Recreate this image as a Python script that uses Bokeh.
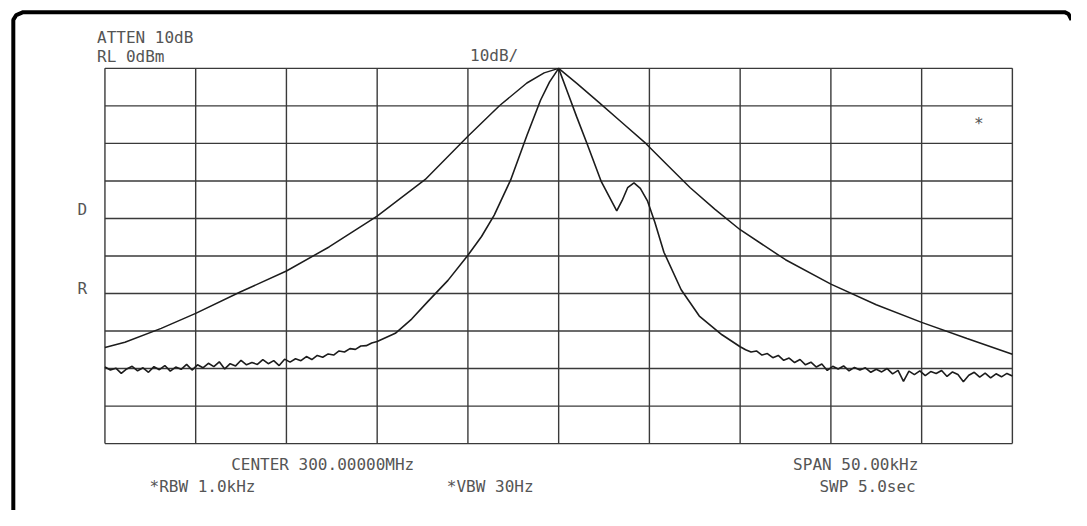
from bokeh.plotting import figure
from bokeh.models import Range1d, Label
from bokeh.embed import file_html
from bokeh.resources import INLINE

# ---------------- data ----------------
freq_ticks_khz = [-25, -20, -15, -10, -5, 0, 5, 10, 15, 20, 25]
level_ticks_dbm = [0, -10, -20, -30, -40, -50, -60, -70, -80, -90, -100]

# wide (smooth) trace
wide_khz = [-25.0, -23.9, -21.9, -20.0, -17.55, -15.0, -12.65, -10.0, -7.35, -5.0,
            -3.25, -1.75, -0.8, 0.0, 1.0, 2.2, 3.5, 4.8, 6.0, 7.25, 8.6, 10.0,
            12.5, 15.0, 17.5, 20.0, 22.5, 25.0]
wide_dbm = [-74.4, -73.0, -69.3, -65.3, -59.6, -54.0, -47.6, -39.4, -29.6, -18.1,
            -9.9, -3.9, -1.2, 0.0, -4.0, -9.0, -14.5, -20.0, -25.8, -31.8, -37.5, -43.0,
            -51.0, -57.5, -63.0, -67.7, -72.0, -76.2]

# narrow trace: left noise floor
noise_left_khz = [-25.0, -24.7, -24.4, -24.1, -23.8, -23.5, -23.2, -22.9, -22.6, -22.3,
                  -22.0, -21.7, -21.4, -21.1, -20.8, -20.5, -20.2, -19.9, -19.6, -19.3,
                  -19.0, -18.7, -18.4, -18.1, -17.8, -17.5, -17.2, -16.9, -16.6, -16.3,
                  -16.0, -15.7, -15.4, -15.1, -14.8, -14.5, -14.2, -13.9, -13.6, -13.3,
                  -13.0, -12.7, -12.4, -12.1, -11.8, -11.5, -11.2, -10.9, -10.6, -10.3]
noise_left_dbm = [-79.6, -80.4, -79.9, -81.3, -80.1, -79.4, -80.6, -79.8, -81.0, -79.5,
                  -80.3, -79.2, -80.7, -79.6, -80.2, -78.9, -80.4, -79.0, -79.8, -78.6,
                  -79.5, -78.2, -80.1, -78.7, -79.3, -77.8, -79.0, -78.4, -78.9, -77.6,
                  -78.7, -77.9, -79.2, -77.5, -78.3, -77.4, -77.9, -76.8, -77.6, -76.5,
                  -77.0, -76.1, -76.4, -75.3, -75.6, -74.7, -74.9, -74.0, -73.9, -73.2]

# narrow trace: main response with the side lobe
mid_khz = [-10.0, -9.0, -8.1, -7.2, -6.1, -5.0, -4.25, -3.55, -2.65, -1.75, -1.0, -0.5, 0.0,
           0.5, 1.0, 1.55, 2.35, 3.2, 3.5, 3.8, 4.15, 4.5, 4.9, 5.3, 5.8, 6.75, 7.75, 9.0, 10.0]
mid_dbm = [-72.8, -70.6, -66.8, -62.1, -56.5, -49.8, -44.8, -39.1, -29.8, -17.9, -8.5, -3.6, 0.0,
           -6.5, -13.0, -19.9, -30.2, -38.0, -35.2, -31.8, -30.5, -32.0, -35.4, -41.0, -49.0,
           -59.0, -66.0, -71.0, -74.2]

# narrow trace: right noise floor
noise_right_khz = [10.3, 10.6, 10.9, 11.2, 11.5, 11.8, 12.1, 12.4, 12.7, 13.0,
                   13.3, 13.6, 13.9, 14.2, 14.5, 14.8, 15.1, 15.4, 15.7, 16.0,
                   16.3, 16.6, 16.9, 17.2, 17.5, 17.8, 18.1, 18.4, 18.7, 19.0,
                   19.3, 19.6, 19.9, 20.2, 20.5, 20.8, 21.1, 21.4, 21.7, 22.0,
                   22.3, 22.6, 22.9, 23.2, 23.5, 23.8, 24.1, 24.4, 24.7, 25.0]
noise_right_dbm = [-75.0, -75.6, -75.3, -76.4, -76.0, -77.1, -76.5, -77.8, -77.2, -78.4,
                   -77.6, -79.0, -78.3, -79.6, -78.8, -80.5, -79.4, -80.1, -79.3, -80.6,
                   -79.7, -80.4, -79.8, -81.0, -80.2, -80.9, -80.0, -81.4, -80.5, -83.4,
                   -80.7, -81.6, -80.6, -81.9, -80.8, -81.3, -80.5, -82.1, -80.9, -81.6,
                   -83.5, -81.8, -81.0, -82.3, -81.2, -82.5, -81.4, -82.2, -81.3, -82.0]

header_texts = ["ATTEN 10dB", "RL 0dBm", "10dB/"]
footer_texts = ["CENTER 300.00000MHz", "SPAN 50.00kHz", "*RBW 1.0kHz", "*VBW 30Hz", "SWP 5.0sec"]
side_texts = ["D", "R", "*"]

# ---------------- layout ----------------
W, H = 1071, 510
SX, SY = W / 1087.0, H / 526.0             # reference-pixel -> figure-pixel
GL, GR, GT, GB = 106 * SX, 1027 * SX, 70 * SY, 457 * SY   # grid box
f_lo, f_hi = freq_ticks_khz[0], freq_ticks_khz[-1]
l_hi, l_lo = level_ticks_dbm[0], level_ticks_dbm[-1]
kx = (f_hi - f_lo) / (GR - GL)
ky = (l_hi - l_lo) / (GB - GT)
x0 = f_lo - GL * kx
x1 = f_hi + (W - GR) * kx
y1 = l_hi + GT * ky
y0 = l_lo - (H - GB) * ky


def px(rx):
    return x0 + rx * SX * kx


def py(ry):
    return y1 - ry * SY * ky


p = figure(width=W, height=H, x_range=Range1d(x0, x1), y_range=Range1d(y0, y1),
           x_axis_type=None, y_axis_type=None, min_border=0, title=None,
           toolbar_location=None, output_backend="svg", outline_line_color=None,
           background_fill_color="white", border_fill_color="white")
p.xgrid.visible = False
p.ygrid.visible = False

GRID_C = "#3a3a3a"
# graticule
p.segment(x0=freq_ticks_khz, x1=freq_ticks_khz,
          y0=[l_lo] * len(freq_ticks_khz), y1=[l_hi] * len(freq_ticks_khz),
          line_color=GRID_C, line_width=1.4)
p.segment(x0=[f_lo] * len(level_ticks_dbm), x1=[f_hi] * len(level_ticks_dbm),
          y0=level_ticks_dbm, y1=level_ticks_dbm,
          line_color=GRID_C, line_width=1.4)

TRACE_C = "#1c1c1c"
p.line(wide_khz, wide_dbm, line_color=TRACE_C, line_width=1.5)
narrow_khz = noise_left_khz + mid_khz + noise_right_khz
narrow_dbm = noise_left_dbm + mid_dbm + noise_right_dbm
p.line(narrow_khz, narrow_dbm, line_color=TRACE_C, line_width=1.6)

# outer frame of the screen
p.line([px(13), px(13), px(16), px(23), px(1080), px(1084), px(1087)],
       [py(526), py(20), py(15), py(12), py(12), py(14), py(20)],
       line_color="black", line_width=4)

FONT = "DejaVu Sans Mono"
TC = "#555555"


def lab(text, cx, cy, align="center", size="16px"):
    p.add_layout(Label(x=px(cx), y=py(cy), text=text, text_font=FONT,
                       text_font_size=size, text_color=TC, text_align=align,
                       text_baseline="middle"))


lab(header_texts[0], 98, 38, align="left")
lab(header_texts[1], 98, 58, align="left")
lab(header_texts[2], 501, 57)
lab(footer_texts[0], 327, 479)
lab(footer_texts[1], 868, 479)
lab(footer_texts[2], 205, 501)
lab(footer_texts[3], 497, 501)
lab(footer_texts[4], 880, 501)
lab(side_texts[0], 83, 216)
lab(side_texts[1], 83, 297)
lab(side_texts[2], 993, 127)

open("out.html", "w").write(file_html(p, INLINE))
